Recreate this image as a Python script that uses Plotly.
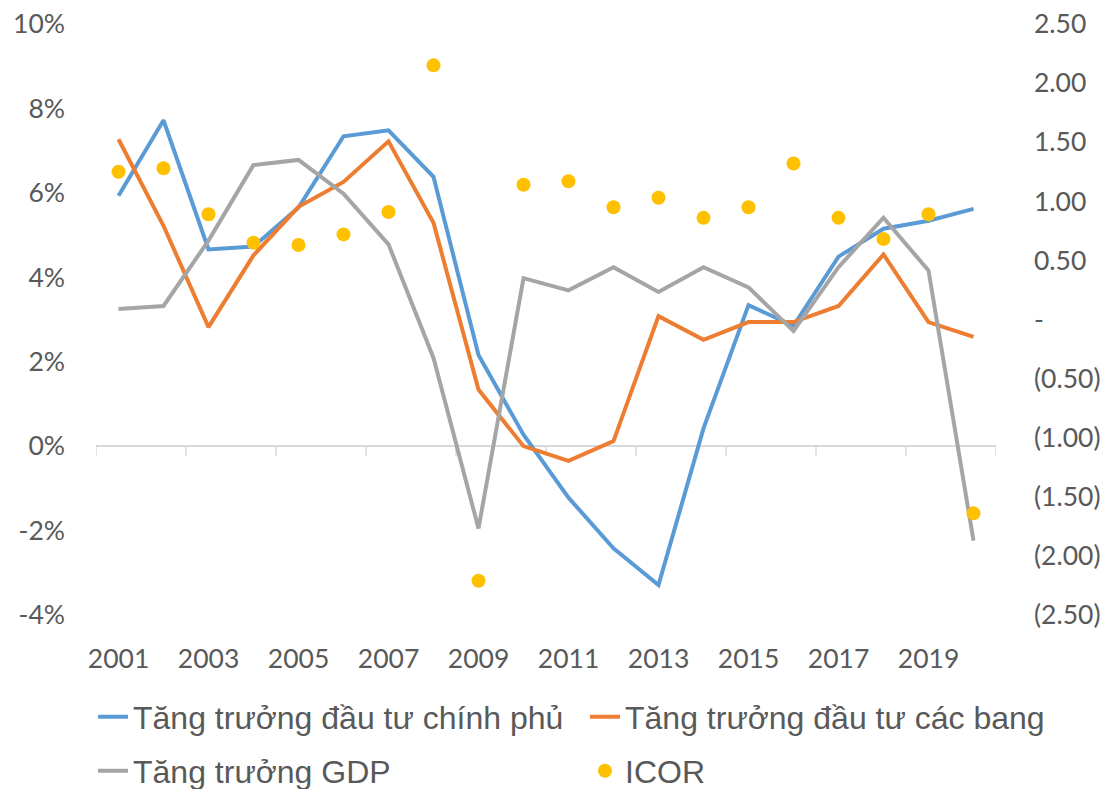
import plotly.graph_objects as go

years = list(range(2001, 2021))
gov_invest = [5.93, 7.72, 4.66, 4.73, 5.65, 7.34, 7.48, 6.38, 2.16, 0.27,
              -1.22, -2.42, -3.29, 0.42, 3.34, 2.85, 4.49, 5.15, 5.34, 5.62]
state_invest = [7.27, 5.22, 2.82, 4.52, 5.67, 6.26, 7.22, 5.29, 1.34, 0.0,
                -0.35, 0.12, 3.08, 2.52, 2.94, 2.94, 3.32, 4.54, 2.94, 2.59]
gdp_growth = [3.25, 3.32, 4.87, 6.66, 6.78, 5.98, 4.78, 2.09, -1.95, 3.98,
              3.69, 4.24, 3.65, 4.24, 3.76, 2.73, 4.24, 5.41, 4.16, -2.24]
icor = [1.25, 1.28, 0.89, 0.65, 0.63, 0.72, 0.91, 2.15, -2.21, 1.14,
        1.17, 0.95, 1.03, 0.86, 0.95, 1.32, 0.86, 0.68, 0.89, -1.64]

x_labels = [str(y) for y in years[::2]]
left_ticks = [-4, -2, 0, 2, 4, 6, 8, 10]
left_text = [f"{v}%" for v in left_ticks]
right_ticks = [2.5, 2.0, 1.5, 1.0, 0.5, 0, -0.5, -1.0, -1.5, -2.0, -2.5]
right_text = ["2.50", "2.00", "1.50", "1.00", "0.50", "-",
              "(0.50)", "(1.00)", "(1.50)", "(2.00)", "(2.50)"]

names = ["Tăng trưởng đầu tư chính phủ", "Tăng trưởng đầu tư các bang",
         "Tăng trưởng GDP", "ICOR"]
colors = ["#5B9BD5", "#ED7D31", "#A5A5A5", "#FFC000"]

tick_font = dict(family="Lato, 'Open Sans', sans-serif", size=26.5, color="#595959")
legend_font = dict(family="'Liberation Sans', Arial, sans-serif", size=32, color="#595959")

fig = go.Figure()
fig.add_trace(go.Scatter(x=years, y=gov_invest, mode="lines", name=names[0],
                         line=dict(color=colors[0], width=4), legend="legend"))
fig.add_trace(go.Scatter(x=years, y=state_invest, mode="lines", name=names[1],
                         line=dict(color=colors[1], width=4), legend="legend"))
fig.add_trace(go.Scatter(x=years, y=gdp_growth, mode="lines", name=names[2],
                         line=dict(color=colors[2], width=4), legend="legend2"))
fig.add_trace(go.Scatter(x=years, y=icor, mode="markers", name=names[3], yaxis="y2",
                         marker=dict(color=colors[3], size=14), legend="legend2"))

# category tick marks on the zero line (between every second category)
for k in range(0, len(years) + 1, 2):
    xv = years[0] - 0.5 + k
    fig.add_shape(type="line", xref="x", yref="y", ysizemode="pixel", yanchor=0,
                  x0=xv, x1=xv, y0=0, y1=-10,
                  line=dict(color="#D9D9D9", width=1.5), layer="below")

# page has an 8px body margin; figure is sized/offset to compensate
H = 781
T, B = 16, 174
ph = H - T - B
fig.update_layout(
    width=1104, height=H,
    margin=dict(l=88, r=116, t=T, b=B, autoexpand=False),
    plot_bgcolor="white", paper_bgcolor="white",
    xaxis=dict(range=[years[0] - 0.5, years[-1] + 0.5],
               tickvals=years[::2], ticktext=x_labels,
               ticks="", showgrid=False, zeroline=False, showline=False,
               tickfont=tick_font, ticklabelstandoff=25),
    yaxis=dict(range=[-4, 10], tickvals=left_ticks, ticktext=left_text,
               showgrid=False, zeroline=True, zerolinecolor="#D9D9D9",
               zerolinewidth=1.5, showline=False, ticks="",
               tickfont=tick_font, ticklabelstandoff=30,
               ticklabeloverflow="allow"),
    yaxis2=dict(range=[-2.5, 2.5], overlaying="y", side="right",
                tickvals=right_ticks, ticktext=right_text,
                showgrid=False, zeroline=False, showline=False, ticks="",
                tickfont=tick_font, ticklabelstandoff=37,
                ticklabeloverflow="allow"),
    legend=dict(orientation="h", x=-0.0033, xanchor="left",
                y=-(717 - 8 - (H - B)) / ph, yanchor="middle", entrywidth=447,
                font=legend_font, bgcolor="rgba(0,0,0,0)", itemsizing="trace"),
    legend2=dict(orientation="h", x=-0.0033, xanchor="left",
                 y=-(771 - 8 - (H - B)) / ph, yanchor="middle", entrywidth=447,
                 font=legend_font, bgcolor="rgba(0,0,0,0)", itemsizing="trace"),
    showlegend=True,
)

fig.write_html("out.html")
